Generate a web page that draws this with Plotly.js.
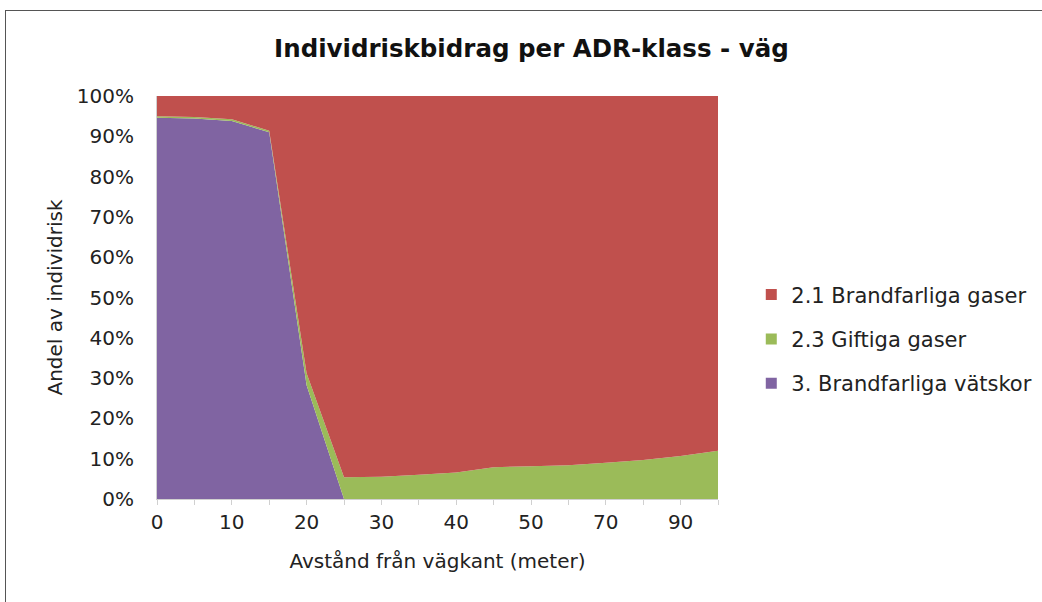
<!DOCTYPE html>
<html>
<head>
<meta charset="utf-8">
<script src="https://cdn.plot.ly/plotly-3.0.1.min.js"></script>
<style>
  html, body { margin: 0; padding: 0; background: #fff; }
  #wrap { position: relative; width: 1042px; height: 602px; overflow: hidden; }
  #chart { position: absolute; left: 0; top: 0; width: 1042px; height: 602px; }
  #frame { position: absolute; left: 5px; top: 10px; width: 1040px; height: 600px;
           border: 1.5px solid #555; box-sizing: border-box; pointer-events: none; }
</style>
</head>
<body>
<div id="wrap">
  <div id="chart"></div>
  <div id="frame"></div>
</div>
<script>
// Distance from road edge (meter) - categories
const distances = ["0","5","10","15","20","25","30","35","40","45","50","60","70","80","90","100"];
// Share of individual risk (%) per ADR class
const brandfarligaVatskor = [94.6, 94.4, 93.8, 91.0, 28.2, 0, 0, 0, 0, 0, 0, 0, 0, 0, 0, 0];
const giftigaGaser        = [0.4, 0.4, 0.4, 0.4, 3.0, 5.4, 5.5, 6.0, 6.6, 7.9, 8.1, 8.4, 9.0, 9.7, 10.7, 12.0];
const brandfarligaGaser   = [5.0, 5.2, 5.8, 8.6, 68.8, 94.6, 94.5, 94.0, 93.4, 92.1, 91.9, 91.6, 91.0, 90.3, 89.3, 88.0];
const tickLabels = ["0","","10","","20","","30","","40","","50","","70","","90",""];

const names = ["2.1 Brandfarliga gaser", "2.3 Giftiga gaser", "3. Brandfarliga vätskor"];
const colors = ["#C0504D", "#9BBB59", "#8064A2"];

const FONT = "DejaVu Sans, Verdana, sans-serif";

const traces = [
  {x: distances, y: brandfarligaVatskor, name: names[2], type: "scatter", mode: "none",
   stackgroup: "one", fillcolor: colors[2], line: {width: 0}, showlegend: false},
  {x: distances, y: giftigaGaser, name: names[1], type: "scatter", mode: "none",
   stackgroup: "one", fillcolor: colors[1], line: {width: 0}, showlegend: false},
  {x: distances, y: brandfarligaGaser, name: names[0], type: "scatter", mode: "none",
   stackgroup: "one", fillcolor: colors[0], line: {width: 0}, showlegend: false}
];
// legend entries (square swatches), top to bottom: red, green, purple
for (let i = 0; i < 3; i++) {
  traces.push({x: [null], y: [null], type: "scatter", mode: "markers", name: names[i],
    legendgroup: "g" + i,
    marker: {symbol: "square", size: 11, color: colors[i]}, showlegend: true});
}

const layout = {
  width: 1042, height: 602,
  margin: {l: 157, r: 324, t: 96, b: 103},
  paper_bgcolor: "#ffffff", plot_bgcolor: "#ffffff",
  font: {family: FONT, size: 20, color: "#222"},
  title: {text: "<b>Individriskbidrag per ADR-klass - väg</b>",
          font: {family: FONT, size: 24.5, color: "#111"},
          x: 0.51, xanchor: "center", y: 0.92, yanchor: "middle"},
  showlegend: true,
  legend: {xref: "container", yref: "container", x: 0.721, xanchor: "left",
           y: 0.437, yanchor: "middle",
           traceorder: "grouped", tracegroupgap: 14, itemwidth: 30,
           font: {family: FONT, size: 21, color: "#222"},
           bgcolor: "rgba(0,0,0,0)"},
  xaxis: {type: "category", range: [0, 15], tickmode: "array",
          tickvals: distances, ticktext: tickLabels,
          showgrid: false, zeroline: false, showline: true, linecolor: "#d0d0d0", linewidth: 1,
          ticks: "outside", ticklen: 5, tickcolor: "#d0d0d0",
          tickfont: {family: FONT, size: 20, color: "#222"},
          title: {text: "Avstånd från vägkant (meter)", font: {family: FONT, size: 20, color: "#222"}, standoff: 20}},
  yaxis: {range: [0, 100], tickmode: "linear", tick0: 0, dtick: 10, ticksuffix: "%",
          showgrid: false, zeroline: false, showline: true, linecolor: "#d0d0d0", linewidth: 1,
          ticks: "", ticklabelstandoff: 18, tickfont: {family: FONT, size: 20, color: "#222"},
          title: {text: "Andel av individrisk", font: {family: FONT, size: 20, color: "#222"}, standoff: 8}}
};

Plotly.newPlot("chart", traces, layout, {displayModeBar: false, staticPlot: true});
</script>
</body>
</html>
